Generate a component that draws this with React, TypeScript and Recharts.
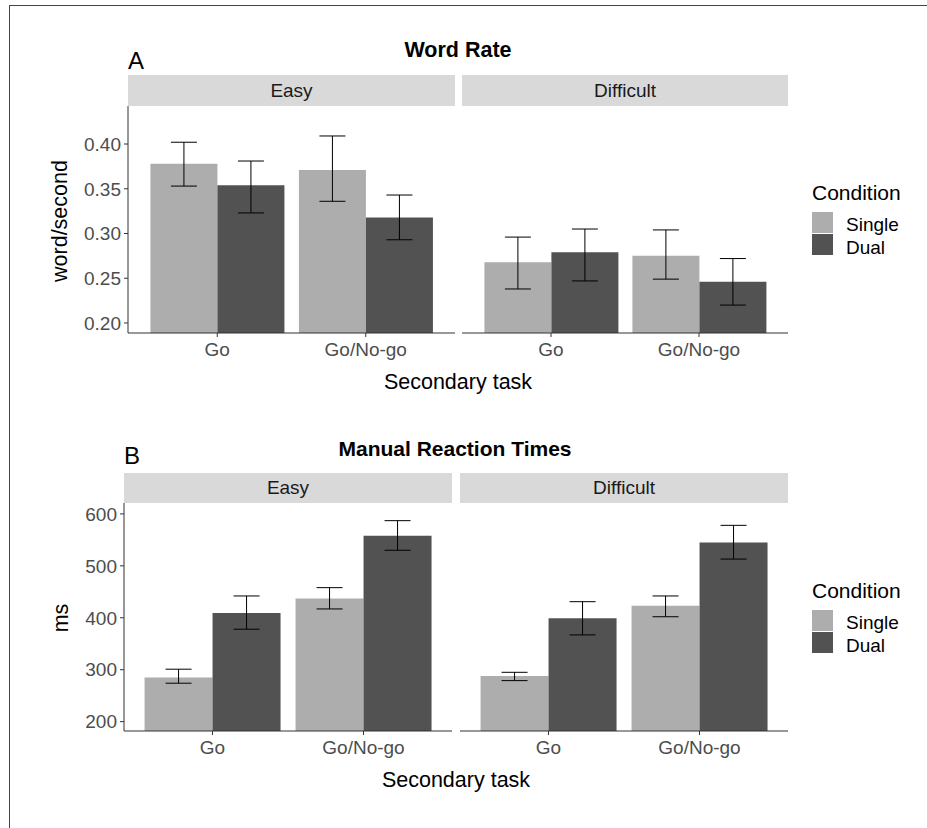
import React from "react";
import { BarChart, Bar, XAxis, YAxis, ErrorBar } from "recharts";

const tasks = ["Go", "Go/No-go"];
const conditions = ["Single", "Dual"];
const fills = ["#ADADAD", "#525252"];

// word rate (word/second): means and CI bounds per task
const wordEasySingle = [0.378, 0.371];
const wordEasySingleCI = [[0.353, 0.402], [0.336, 0.409]];
const wordEasyDual = [0.354, 0.318];
const wordEasyDualCI = [[0.323, 0.381], [0.293, 0.343]];
const wordDiffSingle = [0.268, 0.275];
const wordDiffSingleCI = [[0.238, 0.296], [0.249, 0.304]];
const wordDiffDual = [0.279, 0.246];
const wordDiffDualCI = [[0.247, 0.305], [0.22, 0.272]];
const wordTicks = [0.2, 0.25, 0.3, 0.35, 0.4];

// manual reaction times (ms)
const rtEasySingle = [285, 437];
const rtEasySingleCI = [[274, 301], [417, 458]];
const rtEasyDual = [409, 558];
const rtEasyDualCI = [[378, 442], [530, 587]];
const rtDiffSingle = [288, 423];
const rtDiffSingleCI = [[279, 295], [402, 442]];
const rtDiffDual = [399, 545];
const rtDiffDualCI = [[367, 431], [513, 578]];
const rtTicks = [200, 300, 400, 500, 600];

const FONT = "'Liberation Sans', Arial, sans-serif";

const buildRows = (
  single: number[],
  singleCI: number[][],
  dual: number[],
  dualCI: number[][]
) =>
  tasks.map((task, i) => ({
    task,
    Single: single[i],
    SingleErr: [single[i] - singleCI[i][0], singleCI[i][1] - single[i]],
    Dual: dual[i],
    DualErr: [dual[i] - dualCI[i][0], dualCI[i][1] - dual[i]],
  }));

type FacetProps = {
  rows: any[];
  domain: [number, number];
  ticks: number[];
  left: number;
  top: number;
  width: number;
  plotHeight: number;
  showY: boolean;
  padding: number;
  fmt: (v: number) => string;
};

const Facet = ({ rows, domain, ticks, left, top, width, plotHeight, showY, padding, fmt }: FacetProps) => {
  const yW = showY ? 70 : 0;
  return (
    <div style={{ position: "absolute", left: left - yW, top }}>
      <BarChart
        width={width + yW}
        height={plotHeight + 40}
        data={rows}
        margin={{ top: 0, right: 0, bottom: 0, left: 0 }}
        barGap={0}
        barCategoryGap="5%"
      >
        <XAxis
          dataKey="task"
          height={40}
          interval={0}
          padding={{ left: padding, right: padding }}
          tickSize={4}
          tickMargin={6}
          stroke="#333"
          tick={{ fill: "#4D4D4D", fontSize: 19 }}
        />
        <YAxis
          type="number"
          hide={!showY}
          width={yW}
          domain={domain}
          ticks={ticks}
          allowDataOverflow
          tickFormatter={fmt}
          tickSize={4}
          tickMargin={3}
          stroke="#333"
          tick={{ fill: "#4D4D4D", fontSize: 19 }}
        />
        {conditions.map((c, k) => (
          <Bar key={c} dataKey={c} fill={fills[k]} isAnimationActive={false}>
            <ErrorBar dataKey={c + "Err"} width={13} stroke="#000" strokeWidth={1} />
          </Bar>
        ))}
      </BarChart>
    </div>
  );
};

const Text = ({ x, y, size, children, bold, align = "center", rotate }: any) => (
  <div
    style={{
      position: "absolute",
      left: x,
      top: y,
      fontSize: size,
      fontWeight: bold ? "bold" : "normal",
      lineHeight: 1,
      whiteSpace: "nowrap",
      color: "#000",
      transform:
        (align === "center" ? "translate(-50%, -50%)" : "translate(0, -50%)") +
        (rotate ? ` rotate(${rotate}deg)` : ""),
    }}
  >
    {children}
  </div>
);

const Strip = ({ x, y, w, h, label }: any) => (
  <div
    style={{
      position: "absolute",
      left: x,
      top: y,
      width: w,
      height: h,
      background: "#D9D9D9",
      color: "#1A1A1A",
      fontSize: 19,
      lineHeight: h + "px",
      textAlign: "center",
    }}
  >
    {label}
  </div>
);

const Legend = ({ top }: { top: number }) => (
  <>
    <Text x={812} y={top} size={21} align="left">Condition</Text>
    {conditions.map((c, k) => (
      <React.Fragment key={c}>
        <div
          style={{
            position: "absolute",
            left: 812,
            top: top + 20 + k * 22,
            width: 21,
            height: 21,
            background: fills[k],
          }}
        />
        <Text x={846} y={top + 32 + k * 23} size={19} align="left">{c}</Text>
      </React.Fragment>
    ))}
  </>
);

export default function App() {
  const fmtWord = (v: number) => v.toFixed(2);
  const fmtRt = (v: number) => String(v);
  return (
    <div
      style={{
        position: "absolute",
        left: 0,
        top: 0,
        width: 927,
        height: 828,
        background: "#fff",
        fontFamily: FONT,
        overflow: "hidden",
      }}
    >
      <div
        style={{
          position: "absolute",
          left: 9,
          top: 5,
          width: 930,
          height: 830,
          borderLeft: "1px solid #444",
          borderTop: "1px solid #444",
        }}
      />

      {/* A: word rate */}
      <Text x={458} y={51} size={21.5} bold>Word Rate</Text>
      <Text x={128} y={61} size={24} align="left">A</Text>
      <Strip x={128} y={75} w={327} h={31} label="Easy" />
      <Strip x={462} y={75} w={326} h={31} label="Difficult" />
      <Facet
        rows={buildRows(wordEasySingle, wordEasySingleCI, wordEasyDual, wordEasyDualCI)}
        domain={[0.1888, 0.4425]}
        ticks={wordTicks}
        left={128}
        top={106}
        width={327}
        plotHeight={227}
        showY
        padding={15}
        fmt={fmtWord}
      />
      <Facet
        rows={buildRows(wordDiffSingle, wordDiffSingleCI, wordDiffDual, wordDiffDualCI)}
        domain={[0.1888, 0.4425]}
        ticks={wordTicks}
        left={462}
        top={106}
        width={326}
        plotHeight={227}
        showY={false}
        padding={15}
        fmt={fmtWord}
      />
      <Text x={61} y={221} size={21.5} rotate={-90}>word/second</Text>
      <Text x={458} y={383} size={21.5}>Secondary task</Text>
      <Legend top={192} />

      {/* B: manual reaction times */}
      <Text x={455} y={448} size={21} bold>Manual Reaction Times</Text>
      <Text x={124} y={456} size={24} align="left">B</Text>
      <Strip x={124} y={473} w={328} h={30} label="Easy" />
      <Strip x={460} y={473} w={328} h={30} label="Difficult" />
      <Facet
        rows={buildRows(rtEasySingle, rtEasySingleCI, rtEasyDual, rtEasyDualCI)}
        domain={[182, 621]}
        ticks={rtTicks}
        left={124}
        top={503}
        width={328}
        plotHeight={228}
        showY
        padding={13}
        fmt={fmtRt}
      />
      <Facet
        rows={buildRows(rtDiffSingle, rtDiffSingleCI, rtDiffDual, rtDiffDualCI)}
        domain={[182, 621]}
        ticks={rtTicks}
        left={460}
        top={503}
        width={328}
        plotHeight={228}
        showY={false}
        padding={13}
        fmt={fmtRt}
      />
      <Text x={62} y={618} size={21.5} rotate={-90}>ms</Text>
      <Text x={456} y={781} size={21.5}>Secondary task</Text>
      <Legend top={590} />
    </div>
  );
}
